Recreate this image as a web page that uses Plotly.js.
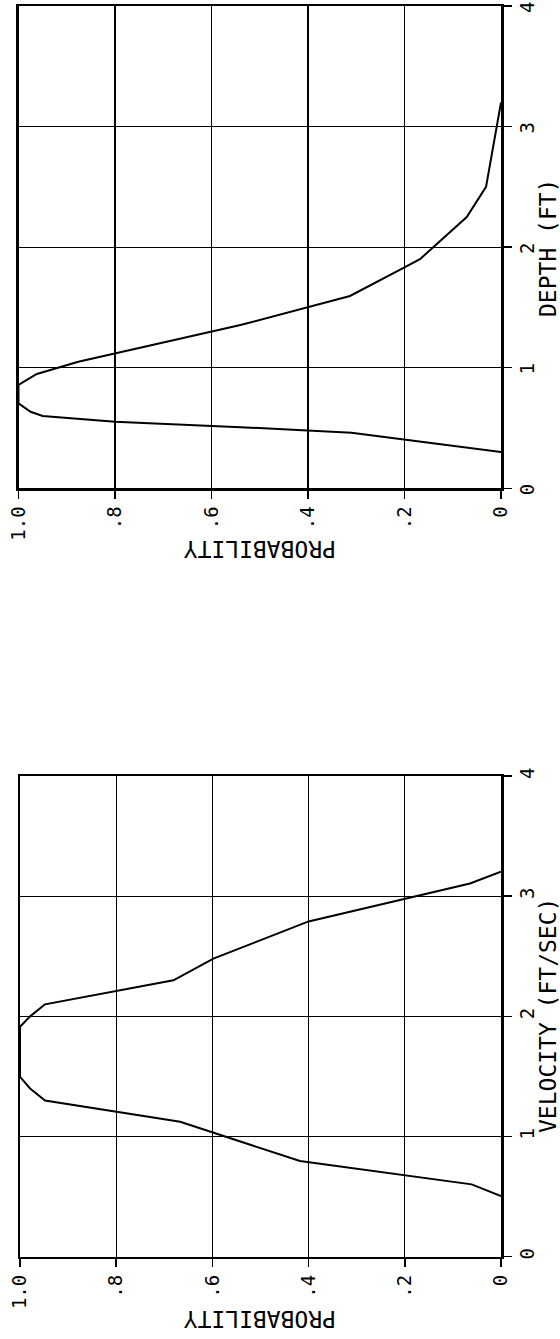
<!DOCTYPE html>
<html>
<head>
<meta charset="utf-8">
<script src="https://cdn.plot.ly/plotly-3.0.1.min.js"></script>
<style>
  html, body { margin: 0; padding: 0; background: #ffffff; }
  #chart { width: 560px; height: 1339px; }
</style>
</head>
<body>
<div id="chart"></div>
<script>
// Depth curve (top panel): depth in ft vs probability
const depthFt   = [0.30, 0.46, 0.507, 0.552, 0.60, 0.635, 0.705, 0.857, 0.948, 1.05, 1.354, 1.595, 1.833, 1.90, 2.25, 2.50, 3.20];
const depthProb = [0.00, 0.31, 0.54,  0.80,  0.95, 0.975, 1.00,  1.00,  0.962, 0.876, 0.54, 0.313, 0.20, 0.168, 0.071, 0.031, 0.00];

// Velocity curve (bottom panel): velocity in ft/sec vs probability
const velocityFtSec = [0.505, 0.602, 0.796, 1.123, 1.30, 1.40, 1.497, 1.913, 2.00, 2.10, 2.30, 2.48, 2.79, 3.106, 3.203];
const velocityProb  = [0.00,  0.061, 0.418, 0.667, 0.948, 0.979, 1.00, 1.00, 0.979, 0.948, 0.681, 0.598, 0.40, 0.0645, 0.00];

// Tick labels
const probTickVals = [0, 0.2, 0.4, 0.6, 0.8, 1.0];
const probTickText = ['0', '.2', '.4', '.6', '.8', '1.0'];
const ftTickVals   = [0, 1, 2, 3, 4];
const ftTickText   = ['0', '1', '2', '3', '4'];

// Axis titles
const probTitle  = 'PROBABILITY';
const depthTitle = 'DEPTH (FT)';
const velTitle   = 'VELOCITY (FT/SEC)';

const W = 560, H = 1339;
const FONT = 'DejaVu Sans Mono, Liberation Mono, monospace';

const probAxis = (domain, anchor) => ({
  domain: domain,
  anchor: anchor,
  range: [1, 0],
  tickmode: 'array',
  tickvals: probTickVals,
  ticktext: probTickText,
  tickangle: -90,
  ticks: 'outside',
  ticklen: 8,
  tickwidth: 1.5,
  tickcolor: '#000',
  showgrid: true,
  gridcolor: '#000',
  gridwidth: 1.3,
  zeroline: false,
  showline: true,
  mirror: true,
  linecolor: '#000',
  linewidth: 2.5,
  automargin: false,
  ticklabeloverflow: 'allow',
  tickfont: { family: FONT, size: 19, color: '#000' }
});

const ftAxis = (domain, anchor, shift) => ({
  domain: domain,
  anchor: anchor,
  side: 'right',
  range: [0, 4],
  tickmode: 'array',
  tickvals: ftTickVals,
  ticktext: ftTickText,
  tickangle: -90,
  ticks: 'outside',
  ticklen: 8,
  tickwidth: 1.5,
  tickcolor: '#000',
  showgrid: true,
  gridcolor: '#000',
  gridwidth: 1.3,
  zeroline: false,
  showline: true,
  mirror: true,
  linecolor: '#000',
  linewidth: 2.5,
  automargin: false,
  ticklabeloverflow: 'allow',
  ticklabelshift: shift,
  tickfont: { family: FONT, size: 19, color: '#000' }
});

const topDomainY = [1 - 488.3 / H, 1 - 6 / H];
const botDomainY = [1 - 1256.7 / H, 1 - 776 / H];

const data = [
  {
    x: depthProb, y: depthFt,
    xaxis: 'x', yaxis: 'y',
    type: 'scatter', mode: 'lines',
    line: { color: '#000', width: 2 },
    showlegend: false, hoverinfo: 'skip'
  },
  {
    x: velocityProb, y: velocityFtSec,
    xaxis: 'x2', yaxis: 'y2',
    type: 'scatter', mode: 'lines',
    line: { color: '#000', width: 2 },
    showlegend: false, hoverinfo: 'skip'
  }
];

const titleFont = { family: FONT, size: 23, color: '#000' };

const layout = {
  width: W, height: H,
  margin: { l: 0, r: 0, t: 0, b: 0, pad: 0 },
  paper_bgcolor: '#fff',
  plot_bgcolor: '#fff',
  showlegend: false,
  xaxis: probAxis([18.5 / W, 501 / W], 'y'),
  yaxis: ftAxis(topDomainY, 'x', 4),
  xaxis2: probAxis([20 / W, 501 / W], 'y2'),
  yaxis2: ftAxis(botDomainY, 'x2', 0),
  annotations: [
    {
      text: probTitle, textangle: 180,
      xref: 'paper', yref: 'paper',
      x: 260 / W, y: 1 - 549 / H,
      xanchor: 'center', yanchor: 'middle',
      showarrow: false, font: titleFont
    },
    {
      text: probTitle, textangle: 180,
      xref: 'paper', yref: 'paper',
      x: 260.5 / W, y: 1 - 1319 / H,
      xanchor: 'center', yanchor: 'middle',
      showarrow: false, font: titleFont
    },
    {
      text: depthTitle, textangle: -90,
      xref: 'paper', yref: 'paper',
      x: 548 / W, y: 1 - 248 / H,
      xanchor: 'center', yanchor: 'middle',
      showarrow: false, font: titleFont
    },
    {
      text: velTitle, textangle: -90,
      xref: 'paper', yref: 'paper',
      x: 548 / W, y: 1 - 1016 / H,
      xanchor: 'center', yanchor: 'middle',
      showarrow: false, font: titleFont
    }
  ]
};

Plotly.newPlot('chart', data, layout, { displayModeBar: false, staticPlot: true });
</script>
</body>
</html>
